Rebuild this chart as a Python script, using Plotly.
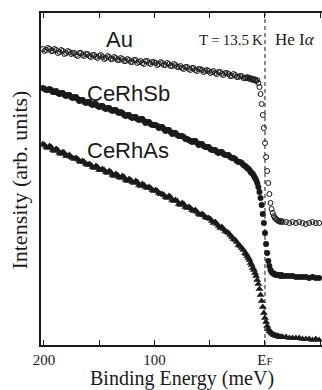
import plotly.graph_objects as go

# ---------------- data ----------------
# binding energy (meV); positive = below E_F
energy = [201, 198, 195, 192, 189, 186, 183, 180, 177, 174, 171, 168, 165, 162, 159, 156,
          153, 150, 147, 144, 141, 138, 135, 132, 129, 126, 123, 120, 117, 114, 111, 108,
          105, 102, 99, 96, 93, 90, 87, 84, 81, 78, 75, 72, 69, 66, 63, 60, 57, 54, 51, 48,
          45, 42, 39, 36, 33, 30, 27, 24, 21, 18,
          16, 15, 14, 13, 12, 11, 10, 9, 8, 7, 6, 5, 4, 3, 2, 1, 0, -1, -2, -3, -4, -5, -6,
          -7, -8, -9, -10, -11, -12, -13, -14, -15, -16,
          -19, -22, -25, -28, -31, -34, -37, -40, -43, -46, -49]

au = [296, 295, 296, 294, 295, 293, 294, 292, 293, 292, 290, 292, 290, 291, 289, 290,
      288, 289, 288, 287, 288, 286, 287, 285, 286, 284, 285, 283, 285, 283, 282, 284,
      282, 283, 282, 281, 282, 280, 281, 279, 280, 278, 277, 278, 276, 277, 275, 276, 275, 274, 274, 273,
      272, 273, 271, 272, 271, 269, 270, 268, 269, 267,
      268, 267, 266, 267, 266, 265, 266, 265, 264, 265, 262, 258, 251, 241, 230, 217, 202, 188, 174, 162, 151, 142, 136,
      132, 129, 127, 126, 125, 124, 124, 123, 124, 123,
      123, 122, 123, 122, 123, 122, 121, 122, 123, 122, 122]

cerhsb = [257, 255, 256, 253, 254, 251, 252, 249, 250, 247, 248, 244, 245, 242, 243, 240,
          241, 238, 239, 236, 237, 234, 235, 232, 232, 229, 230, 227, 228, 225, 226, 222,
          223, 220, 220, 217, 218, 214, 215, 211, 212, 209, 209, 206, 205, 203, 204, 200, 201, 198, 198, 195,
          195, 192, 193, 190, 190, 187, 186, 183, 182, 179,
          177, 176, 175, 173, 172, 171, 169, 167, 165, 162, 158, 153, 147, 140, 131, 122, 112, 101, 92, 84, 79, 75, 73,
          72, 71, 71, 70, 70, 70, 70, 69, 70, 69,
          69, 69, 69, 68, 68, 68, 68, 67, 68, 67, 67]

cerhas = [201, 198, 199, 195, 196, 192, 193, 189, 190, 187, 187, 184, 184, 181, 181, 178,
          179, 175, 176, 173, 174, 170, 171, 168, 169, 165, 166, 163, 164, 160, 161, 158,
          158, 155, 155, 152, 151, 148, 149, 145, 145, 141, 142, 138, 138, 135, 135, 131, 131, 128, 127, 124,
          123, 119, 118, 114, 112, 108, 105, 100, 97, 92,
          89, 87, 85, 82, 80, 77, 75, 72, 69, 65, 61, 56, 50, 44, 38, 32, 27, 23, 19, 16, 14, 13, 12,
          11, 10, 10, 9, 9, 9, 8, 8, 8, 8,
          8, 7, 7, 7, 7, 6, 6, 6, 5, 6, 5]

# additional readings between the points above (dense part of the spectra)
energy_mid = [199.5, 196.5, 193.5, 190.5, 187.5, 184.5, 181.5, 178.5, 175.5, 172.5, 169.5,
              166.5, 163.5, 160.5, 157.5, 154.5, 151.5, 148.5, 145.5, 142.5, 139.5, 136.5,
              133.5, 130.5, 127.5, 124.5, 121.5, 118.5, 115.5, 112.5, 109.5, 106.5, 103.5,
              100.5, 97.5, 94.5, 91.5, 88.5, 85.5, 82.5, 79.5, 76.5, 73.5, 70.5, 67.5, 64.5,
              61.5, 58.5, 55.5, 52.5, 49.5, 46.5, 43.5, 40.5, 37.5, 34.5, 31.5, 28.5, 25.5,
              22.5, 19.5, 17]

au_mid = [294, 297, 294, 296, 292, 295, 291, 294, 291, 292, 289, 292, 289, 291, 288, 290,
          287, 290, 286, 289, 286, 288, 285, 287, 284, 286, 283, 285, 282, 284, 281, 284,
          281, 283, 280, 283, 280, 282, 279, 281, 278, 279, 276, 278, 275, 277, 274, 276,
          273, 275, 272, 274, 271, 273, 270, 272, 269, 271, 268, 269, 267, 267]

cerhsb_mid = [256, 255, 255, 253, 252, 252, 250, 250, 248, 248, 246, 245, 243, 243, 241, 241,
              239, 239, 237, 237, 235, 235, 233, 233, 230, 230, 228, 228, 226, 226, 224, 223,
              221, 220, 219, 218, 216, 215, 213, 212, 210, 209, 208, 206, 204, 204, 202, 201,
              199, 198, 196, 195, 193, 193, 191, 190, 188, 187, 184, 183, 180, 178]

cerhas_mid = [200, 197, 198, 194, 195, 191, 192, 189, 188, 186, 186, 183, 183, 180, 180, 177,
              178, 175, 175, 172, 173, 169, 170, 167, 168, 164, 165, 162, 163, 159, 160, 157,
              157, 154, 154, 151, 150, 147, 148, 144, 144, 140, 141, 137, 137, 134, 133, 130,
              130, 127, 126, 122, 121, 117, 116, 113, 110, 106, 103, 99, 95, 91]

fermi_level = 0
tick_values = [200, 150, 100, 50, 0, -50]
tick_labels = ["200", "", "100", "", "E<span style='font-size:11px'>F</span>", ""]

# ---------------- figure ----------------
INK = "#1a1a1a"
SERIF = "Liberation Serif, Times New Roman, serif"
SANS = "Liberation Sans, Arial, sans-serif"

fig = go.Figure()
fig.add_trace(go.Scatter(x=energy + energy_mid, y=au + au_mid, mode="markers", name="Au",
                         marker=dict(symbol="circle-open", size=5, color=INK,
                                     line=dict(width=1, color=INK))))
fig.add_trace(go.Scatter(x=energy + energy_mid, y=cerhsb + cerhsb_mid, mode="markers",
                         name="CeRhSb", marker=dict(symbol="circle", size=6, color=INK)))
fig.add_trace(go.Scatter(x=energy + energy_mid, y=cerhas + cerhas_mid, mode="markers",
                         name="CeRhAs", marker=dict(symbol="triangle-up", size=7, color=INK)))

fig.add_shape(type="line", xref="x", yref="paper", x0=fermi_level, x1=fermi_level,
              y0=0, y1=1, line=dict(color=INK, width=1, dash="4px,3px"), layer="below")

fig.update_layout(
    width=322, height=390,
    margin=dict(l=41, r=0, t=13, b=45),
    paper_bgcolor="white", plot_bgcolor="white",
    showlegend=False,
    xaxis=dict(range=[202.7, -51.6], tickvals=tick_values, ticktext=tick_labels,
               ticks="inside", ticklen=5, tickwidth=1.2, tickcolor=INK,
               showline=True, linecolor=INK, linewidth=1.5, mirror="ticks",
               showgrid=False, zeroline=False,
               tickfont=dict(family=SERIF, size=15, color=INK)),
    yaxis=dict(range=[0, 332], showticklabels=False, ticks="",
               showline=True, linecolor=INK, linewidth=1.5, mirror=False,
               showgrid=False, zeroline=False),
    annotations=[
        dict(text="Au", x=0.281, y=0.919, xref="paper", yref="paper", showarrow=False,
             xanchor="center", yanchor="middle", font=dict(family=SANS, size=22, color=INK)),
        dict(text="CeRhSb", x=0.157, y=0.759, xref="paper", yref="paper", showarrow=False,
             xanchor="left", yanchor="middle", font=dict(family=SANS, size=22, color=INK)),
        dict(text="CeRhAs", x=0.157, y=0.587, xref="paper", yref="paper", showarrow=False,
             xanchor="left", yanchor="middle", font=dict(family=SANS, size=22, color=INK)),
        dict(text="T\u2009=\u200913.5\u2009K", x=0.555, y=0.920, xref="paper", yref="paper",
             showarrow=False, xanchor="left", yanchor="middle",
             font=dict(family=SERIF, size=15, color=INK)),
        dict(text="He I<i>α</i>", x=0.826, y=0.920, xref="paper", yref="paper", showarrow=False,
             xanchor="left", yanchor="middle", font=dict(family=SERIF, size=17, color=INK)),
        dict(text="Intensity (arb. units)", x=-0.078, y=0.4955, xref="paper", yref="paper",
             showarrow=False, textangle=-90, xanchor="center", yanchor="middle",
             font=dict(family=SERIF, size=22, color=INK)),
        dict(text="Binding Energy (meV)", x=0.502, y=0, xref="paper", yref="paper",
             yshift=-33, showarrow=False, xanchor="center", yanchor="middle",
             font=dict(family=SERIF, size=20, color=INK)),
    ],
)

fig.write_html("out.html", config={"displayModeBar": False},
               post_script="document.body.style.margin='0';")
